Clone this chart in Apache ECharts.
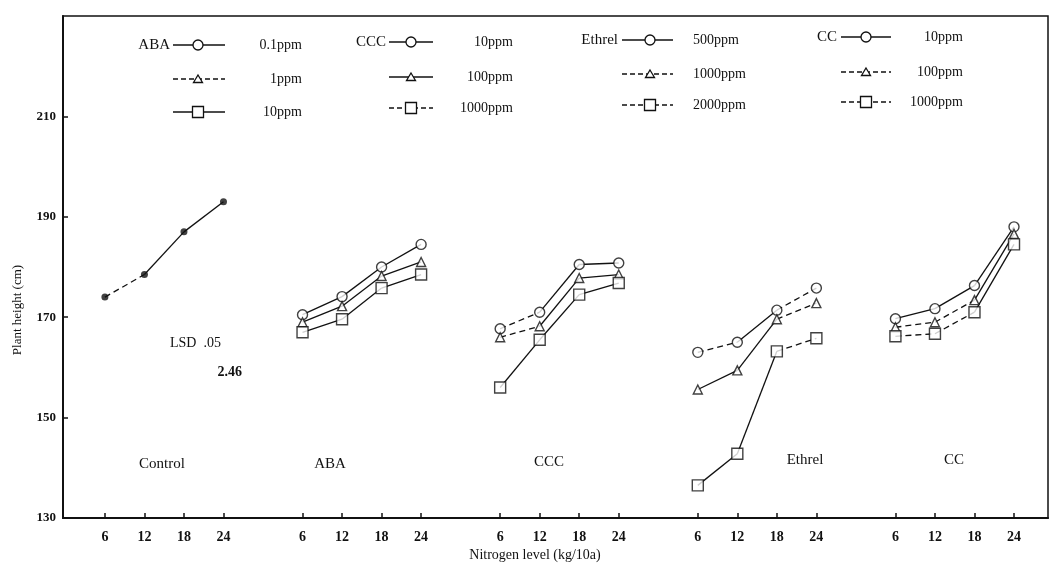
<!DOCTYPE html>
<html><head><meta charset="utf-8">
<script src="https://cdn.jsdelivr.net/npm/echarts@6/dist/echarts.min.js"></script>
<style>html,body{margin:0;padding:0;background:#fff}#c{width:1053px;height:570px}</style>
</head><body><div id="c"></div>
<script>
// ---- data ----
const nLevels = ['6', '12', '18', '24'];
const groupNames = ['Control', 'ABA', 'CCC', 'Ethrel', 'CC'];
const groupSlots = [0, 5, 10, 15, 20];
const yTicks = [130, 150, 170, 190, 210];

const control = [174, 178.5, 187, 193];
const aba01 = [170.5, 174.1, 180.0, 184.5];
const aba1 = [169.0, 172.2, 178.2, 181.0];
const aba10 = [167.0, 169.6, 175.8, 178.5];
const ccc10 = [167.7, 171.0, 180.5, 180.8];
const ccc100 = [166.0, 168.2, 177.8, 178.5];
const ccc1000 = [156.0, 165.5, 174.5, 176.8];
const ethrel500 = [163.0, 165.0, 171.4, 175.8];
const ethrel1000 = [155.6, 159.4, 169.6, 172.8];
const ethrel2000 = [136.5, 142.8, 163.2, 165.8];
const cc10 = [169.7, 171.7, 176.3, 188.0];
const cc100 = [168.0, 169.0, 173.4, 186.6];
const cc1000 = [166.2, 166.7, 171.0, 184.5];

// treatment list: values, group index, marker, segment styles (s solid / d dashed)
const treatments = [
  {v: control, g: 0, m: 'dot', seg: 'dss'},
  {v: aba01, g: 1, m: 'circle', seg: 'sss'},
  {v: aba1, g: 1, m: 'triangle', seg: 'sss'},
  {v: aba10, g: 1, m: 'rect', seg: 'sss'},
  {v: ccc10, g: 2, m: 'circle', seg: 'dss'},
  {v: ccc100, g: 2, m: 'triangle', seg: 'dss'},
  {v: ccc1000, g: 2, m: 'rect', seg: 'sss'},
  {v: ethrel500, g: 3, m: 'circle', seg: 'dsd'},
  {v: ethrel1000, g: 3, m: 'triangle', seg: 'ssd'},
  {v: ethrel2000, g: 3, m: 'rect', seg: 'ssd'},
  {v: cc10, g: 4, m: 'circle', seg: 'sss'},
  {v: cc100, g: 4, m: 'triangle', seg: 'dds'},
  {v: cc1000, g: 4, m: 'rect', seg: 'dds'}
];

// ---- build ----
const FONT = '"Liberation Serif", "DejaVu Serif", serif';
const slotLabel = {};
const slots = [];
groupSlots.forEach(s => nLevels.forEach((n, i) => { slots.push(s + i); slotLabel[s + i] = n; }));

const series = [];
const symSize = {circle: 10, triangle: 9, rect: 11, dot: 7};
treatments.forEach(t => {
  const pts = t.v.map((y, i) => [groupSlots[t.g] + i, y]);
  for (let i = 0; i < pts.length - 1; i++) {
    series.push({
      type: 'line', data: [pts[i], pts[i + 1]], showSymbol: false, silent: true, z: 2,
      lineStyle: {color: '#111', width: 1.3, type: t.seg[i] === 'd' ? [6, 4] : 'solid'}
    });
  }
  series.push({
    type: 'scatter', data: pts, z: 5, silent: true,
    symbol: t.m === 'dot' ? 'circle' : t.m,
    symbolSize: symSize[t.m],
    itemStyle: t.m === 'dot' ? {color: '#111'} : {color: '#fff', borderColor: '#111', borderWidth: 1.4}
  });
});

// legend graphics
const legendRows = [
  {label: 'ABA', lx: 170, sx1: 173, sx2: 225, sym: 198, tx: 302, talign: 'right', ys: [45, 79, 112],
   items: ['0.1ppm', '1ppm', '10ppm'], dash: [false, true, false]},
  {label: 'CCC', lx: 386, sx1: 389, sx2: 433, sym: 411, tx: 513, talign: 'right', ys: [42, 77, 108],
   items: ['10ppm', '100ppm', '1000ppm'], dash: [false, false, true]},
  {label: 'Ethrel', lx: 618, sx1: 622, sx2: 673, sym: 650, tx: 693, talign: 'left', ys: [40, 74, 105],
   items: ['500ppm', '1000ppm', '2000ppm'], dash: [false, true, true]},
  {label: 'CC', lx: 837, sx1: 841, sx2: 891, sym: 866, tx: 963, talign: 'right', ys: [37, 72, 102],
   items: ['10ppm', '100ppm', '1000ppm'], dash: [false, true, true]}
];
const markers = ['circle', 'triangle', 'rect'];
const graphic = [];
function txt(x, y, text, align, size, extra) {
  return Object.assign({type: 'text', x: x, y: y, silent: true, z: 10,
    style: {text: text, fill: '#111', font: (extra && extra.weight ? extra.weight + ' ' : '') + (size || 14) + 'px ' + FONT,
      textAlign: align || 'center', textVerticalAlign: 'middle'}}, extra && extra.el ? extra.el : {});
}
function markerEl(kind, cx, cy) {
  const st = {fill: '#fff', stroke: '#111', lineWidth: 1.3};
  if (kind === 'circle') return {type: 'circle', shape: {cx: cx, cy: cy, r: 5}, style: st, z: 11, silent: true};
  if (kind === 'rect') return {type: 'rect', shape: {x: cx - 5.5, y: cy - 5.5, width: 11, height: 11}, style: st, z: 11, silent: true};
  return {type: 'polygon', shape: {points: [[cx, cy - 4], [cx + 4.5, cy + 3.5], [cx - 4.5, cy + 3.5]]}, style: st, z: 11, silent: true};
}
legendRows.forEach(r => {
  graphic.push(txt(r.lx, r.ys[0], r.label, 'right', 15));
  r.items.forEach((it, k) => {
    const y = r.ys[k];
    graphic.push({type: 'line', shape: {x1: r.sx1, y1: y, x2: r.sx2, y2: y}, silent: true, z: 10,
      style: {stroke: '#111', lineWidth: 1.3, lineDash: r.dash[k] ? [5, 3] : null}});
    graphic.push(markerEl(markers[k], r.sym, y));
    graphic.push(txt(r.tx, y, it, r.talign, 14));
  });
});
// group labels
const groupLabelPos = [[162, 464], [330, 464], [549, 462], [805, 460], [954, 460]];
groupNames.forEach((n, i) => graphic.push(txt(groupLabelPos[i][0], groupLabelPos[i][1], n, 'center', 15)));
graphic.push(txt(170, 343, 'LSD  .05', 'left', 14));
graphic.push(txt(242, 372, '2.46', 'right', 14, {weight: 'bold'}));
graphic.push(txt(535, 555, 'Nitrogen level (kg/10a)', 'center', 14));
graphic.push(txt(18, 310, 'Plant height (cm)', 'center', 13, {el: {rotation: Math.PI / 2}}));

const chart = echarts.init(document.getElementById('c'), null, {renderer: 'canvas'});
chart.setOption({
  animation: false,
  backgroundColor: '#fff',
  grid: {left: 63, right: 5, top: 16, bottom: 52, show: true, borderColor: '#111', borderWidth: 1.5, backgroundColor: 'transparent'},
  xAxis: {
    type: 'value', min: -1.06, max: 23.86,
    axisLine: {show: true, onZero: false, lineStyle: {color: '#111', width: 2}},
    axisTick: {show: true, inside: true, length: 5, customValues: slots, lineStyle: {color: '#111', width: 1.5}},
    axisLabel: {customValues: slots, formatter: v => slotLabel[Math.round(v)] || '', color: '#111',
      fontFamily: FONT, fontSize: 14, fontWeight: 'bold', margin: 12},
    splitLine: {show: false}
  },
  yAxis: {
    type: 'value', min: 130, max: 230,
    axisLine: {show: true, onZero: false, lineStyle: {color: '#111', width: 2}},
    axisTick: {show: true, inside: true, length: 5, customValues: yTicks, lineStyle: {color: '#111', width: 1.5}},
    axisLabel: {customValues: yTicks, color: '#111', fontFamily: FONT, fontSize: 13, fontWeight: 'bold', margin: 7},
    splitLine: {show: false}
  },
  graphic: graphic,
  series: series
});
</script></body></html>
